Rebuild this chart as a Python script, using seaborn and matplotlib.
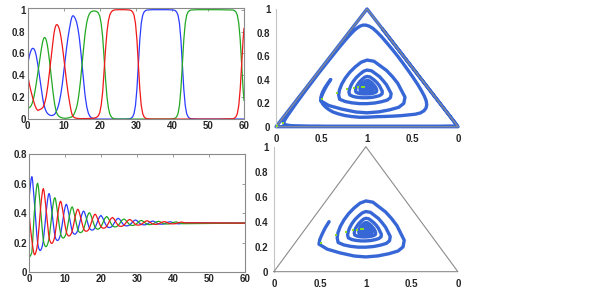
import numpy as np
import pandas as pd
import seaborn as sns
import matplotlib
matplotlib.use("Agg")
import matplotlib.pyplot as plt

# ---------------- data ----------------
# top left: run that spirals out to the boundary
# sampled every 0.2 up to t=16, every 0.4 up to t=24, then around each switch
t_growing = (list(np.round(np.arange(81) * 0.2, 1))
             + list(np.round(16.4 + np.arange(20) * 0.4, 1)) + [
    24.4, 25.5, 27.0, 28.3, 28.7, 29.1, 29.5, 29.9, 30.3, 30.7, 31.1, 31.5, 31.9,
    32.3, 32.7, 33.1, 34.5, 37.0, 39.0, 40.5, 40.9, 41.3, 41.7, 42.1, 42.5, 42.9,
    43.3, 43.7, 44.1, 44.5, 44.9, 45.3, 47.0, 50.0, 53.0, 56.95, 57.35, 57.75,
    58.15, 58.55, 58.95, 59.35, 59.75, 60.0])
blue_growing = [
    0.500, 0.536, 0.568, 0.594, 0.615, 0.632, 0.643, 0.647, 0.645, 0.638,
    0.625, 0.603, 0.575, 0.540, 0.500, 0.454, 0.405, 0.357, 0.310, 0.264,
    0.220, 0.182, 0.148, 0.120, 0.097, 0.079, 0.065, 0.055, 0.048, 0.042,
    0.038, 0.035, 0.033, 0.032, 0.033, 0.035, 0.038, 0.043, 0.050, 0.061,
    0.075, 0.091, 0.110, 0.133, 0.160, 0.193, 0.230, 0.273, 0.320, 0.373,
    0.430, 0.488, 0.545, 0.601, 0.655, 0.704, 0.750, 0.792, 0.830, 0.867,
    0.900, 0.926, 0.942, 0.945, 0.940, 0.931, 0.918, 0.902, 0.880, 0.851,
    0.815, 0.771, 0.720, 0.660, 0.595, 0.526, 0.455, 0.384, 0.315, 0.252,
    0.195,
    0.110, 0.057, 0.028, 0.013, 0.006, 0.003, 0.001, 0, 0, 0, 0, 0, 0, 0, 0,
    0, 0, 0, 0, 0,
    0, 0, 0, 0.003, 0.008, 0.020, 0.050, 0.125, 0.275, 0.500, 0.725, 0.875, 0.950,
    0.980, 0.992, 0.997, 1.0, 1.0, 1.0, 0.997, 0.992, 0.980, 0.950, 0.875, 0.725,
    0.500, 0.275, 0.125, 0.050, 0.020, 0.008, 0.003, 0, 0, 0, 0, 0, 0,
    0, 0, 0, 0, 0, 0]
green_growing = [
    0.100, 0.101, 0.103, 0.108, 0.115, 0.125, 0.140, 0.160, 0.185, 0.215,
    0.250, 0.288, 0.330, 0.374, 0.420, 0.465, 0.510, 0.556, 0.600, 0.642,
    0.680, 0.712, 0.735, 0.745, 0.745, 0.735, 0.715, 0.684, 0.645, 0.598,
    0.545, 0.489, 0.430, 0.370, 0.310, 0.253, 0.200, 0.154, 0.115, 0.085,
    0.062, 0.046, 0.035, 0.027, 0.021, 0.017, 0.014, 0.012, 0.010, 0.009,
    0.008, 0.0075, 0.007, 0.0075, 0.008, 0.009, 0.010, 0.0115, 0.013, 0.015,
    0.017, 0.020, 0.024, 0.032, 0.042, 0.056, 0.072, 0.090, 0.113, 0.143,
    0.180, 0.224, 0.276, 0.336, 0.401, 0.470, 0.541, 0.612, 0.681, 0.744,
    0.801,
    0.886, 0.938, 0.967, 0.981, 0.987, 0.988, 0.987, 0.982, 0.970, 0.940,
    0.870, 0.750, 0.560, 0.360, 0.200, 0.100, 0.045, 0.020, 0.008, 0.003,
    0.001, 0, 0, 0, 0, 0, 0, 0, 0, 0, 0, 0, 0,
    0, 0, 0, 0, 0, 0, 0.003, 0.008, 0.020, 0.050, 0.125, 0.275,
    0.500, 0.725, 0.875, 0.950, 0.980, 0.992, 0.997, 1.0, 1.0, 1.0, 0.997, 0.992,
    0.980, 0.950, 0.875, 0.725, 0.500, 0.275, 0.170]
red_growing = [
    0.400, 0.363, 0.329, 0.298, 0.270, 0.243, 0.217, 0.193, 0.170, 0.147,
    0.125, 0.109, 0.095, 0.086, 0.080, 0.081, 0.085, 0.087, 0.090, 0.094,
    0.100, 0.106, 0.117, 0.135, 0.158, 0.186, 0.220, 0.261, 0.307, 0.360,
    0.417, 0.476, 0.537, 0.598, 0.657, 0.712, 0.762, 0.803, 0.835, 0.854,
    0.863, 0.863, 0.855, 0.840, 0.819, 0.790, 0.756, 0.715, 0.670, 0.618,
    0.562, 0.505, 0.448, 0.392, 0.337, 0.287, 0.240, 0.197, 0.157, 0.118,
    0.083, 0.055, 0.034, 0.023, 0.018, 0.013, 0.010, 0.008, 0.007, 0.006,
    0.005, 0.005, 0.004, 0.004, 0.004, 0.004, 0.004, 0.004, 0.004, 0.004,
    0.004,
    0.004, 0.005, 0.005, 0.006, 0.007, 0.009, 0.012, 0.018, 0.030, 0.060,
    0.130, 0.250, 0.440, 0.640, 0.800, 0.900, 0.955, 0.980, 0.992, 0.997,
    0.999, 1.0, 1.0, 0.997, 0.992, 0.980, 0.950, 0.875, 0.725, 0.500, 0.275, 0.125,
    0.050, 0.020, 0.008, 0.003, 0, 0, 0, 0, 0, 0, 0, 0, 0,
    0, 0, 0, 0, 0, 0, 0, 0, 0, 0, 0.003, 0.008,
    0.020, 0.050, 0.125, 0.275, 0.500, 0.725, 0.830]

# bottom left: run that settles on the centre
# sampled every 0.2 up to t=19, then every 0.4
t_damped = (list(np.round(np.arange(96) * 0.2, 1))
            + list(np.round(19.2 + np.arange(61) * 0.4, 1)) + [60.0])
blue_damped = [
    0.500, 0.547, 0.588, 0.632, 0.647, 0.623, 0.569, 0.508, 0.441, 0.373,
    0.305, 0.248, 0.198, 0.172, 0.156, 0.148, 0.148, 0.155, 0.169, 0.189,
    0.217, 0.263, 0.311, 0.364, 0.413, 0.458, 0.495, 0.525, 0.533, 0.518,
    0.483, 0.445, 0.402, 0.359, 0.316, 0.279, 0.247, 0.230, 0.221, 0.216,
    0.215, 0.220, 0.229, 0.242, 0.259, 0.288, 0.319, 0.353, 0.384, 0.413,
    0.436, 0.455, 0.460, 0.451, 0.429, 0.404, 0.377, 0.350, 0.322, 0.299,
    0.279, 0.268, 0.262, 0.258, 0.258, 0.261, 0.267, 0.275, 0.286, 0.305,
    0.324, 0.346, 0.366, 0.384, 0.399, 0.411, 0.414, 0.408, 0.394, 0.378,
    0.361, 0.344, 0.326, 0.311, 0.299, 0.292, 0.288, 0.286, 0.286, 0.287,
    0.291, 0.296, 0.303, 0.315, 0.328, 0.341,
    0.354, 0.375, 0.385, 0.372, 0.351, 0.329, 0.311, 0.304, 0.303, 0.306, 0.314, 0.330,
    0.346, 0.360, 0.366, 0.358, 0.345, 0.330, 0.319, 0.315, 0.314, 0.316, 0.321, 0.331,
    0.342, 0.350, 0.354, 0.349, 0.340, 0.331, 0.324, 0.322, 0.321, 0.322, 0.326, 0.332,
    0.339, 0.344, 0.347, 0.343, 0.338, 0.332, 0.328, 0.326, 0.326, 0.326, 0.328, 0.332,
    0.337, 0.340, 0.342, 0.340, 0.336, 0.333, 0.330, 0.329, 0.328, 0.329, 0.330, 0.333,
    0.335, 0.333]
green_damped = [
    0.100, 0.104, 0.112, 0.121, 0.135, 0.200, 0.285, 0.375, 0.441, 0.502,
    0.552, 0.592, 0.603, 0.583, 0.536, 0.484, 0.426, 0.368, 0.309, 0.260,
    0.217, 0.194, 0.181, 0.174, 0.174, 0.180, 0.192, 0.209, 0.233, 0.273,
    0.314, 0.360, 0.402, 0.441, 0.473, 0.498, 0.505, 0.492, 0.462, 0.429,
    0.392, 0.355, 0.318, 0.287, 0.259, 0.245, 0.237, 0.232, 0.232, 0.236,
    0.244, 0.254, 0.270, 0.295, 0.321, 0.350, 0.377, 0.402, 0.422, 0.438,
    0.443, 0.434, 0.415, 0.394, 0.371, 0.347, 0.324, 0.304, 0.286, 0.277,
    0.272, 0.269, 0.269, 0.271, 0.276, 0.283, 0.293, 0.309, 0.326, 0.344,
    0.361, 0.377, 0.390, 0.400, 0.403, 0.397, 0.386, 0.372, 0.357, 0.342,
    0.327, 0.314, 0.303, 0.298, 0.294, 0.292,
    0.292, 0.297, 0.308, 0.328, 0.351, 0.369, 0.378, 0.367, 0.349, 0.329, 0.314, 0.308,
    0.307, 0.310, 0.317, 0.330, 0.345, 0.356, 0.361, 0.354, 0.343, 0.331, 0.321, 0.318,
    0.317, 0.319, 0.323, 0.331, 0.340, 0.348, 0.351, 0.347, 0.339, 0.332, 0.326, 0.323,
    0.323, 0.324, 0.327, 0.332, 0.338, 0.343, 0.345, 0.342, 0.337, 0.332, 0.328, 0.327,
    0.327, 0.327, 0.329, 0.333, 0.336, 0.339, 0.341, 0.339, 0.336, 0.333, 0.330, 0.329,
    0.329, 0.333]
red_damped = [
    0.400, 0.349, 0.300, 0.257, 0.220, 0.180, 0.150, 0.125, 0.118, 0.126,
    0.143, 0.165, 0.198, 0.251, 0.307, 0.369, 0.426, 0.478, 0.521, 0.556,
    0.566, 0.548, 0.508, 0.463, 0.413, 0.363, 0.313, 0.270, 0.233, 0.214,
    0.203, 0.196, 0.196, 0.201, 0.212, 0.226, 0.247, 0.281, 0.317, 0.356,
    0.392, 0.426, 0.453, 0.475, 0.481, 0.470, 0.444, 0.416, 0.384, 0.352,
    0.320, 0.293, 0.270, 0.257, 0.250, 0.246, 0.246, 0.249, 0.256, 0.265,
    0.279, 0.300, 0.323, 0.348, 0.371, 0.392, 0.409, 0.423, 0.427, 0.420,
    0.404, 0.386, 0.366, 0.345, 0.325, 0.308, 0.293, 0.285, 0.280, 0.278,
    0.278, 0.280, 0.284, 0.290, 0.299, 0.312, 0.327, 0.343, 0.357, 0.371,
    0.382, 0.391, 0.393, 0.388, 0.378, 0.367,
    0.354, 0.328, 0.308, 0.300, 0.298, 0.302, 0.311, 0.329, 0.349, 0.364, 0.371, 0.362,
    0.346, 0.330, 0.317, 0.312, 0.311, 0.313, 0.319, 0.331, 0.343, 0.353, 0.358, 0.352,
    0.342, 0.331, 0.323, 0.320, 0.319, 0.321, 0.324, 0.332, 0.339, 0.346, 0.349, 0.345,
    0.339, 0.332, 0.327, 0.325, 0.324, 0.325, 0.328, 0.332, 0.337, 0.341, 0.343, 0.341,
    0.337, 0.332, 0.329, 0.328, 0.328, 0.328, 0.330, 0.333, 0.336, 0.338, 0.340, 0.338,
    0.335, 0.333]

# green markers on the simplex plots (plot coordinates)
marks_damped_x = [0.507, 0.674, 0.783, 0.862, 0.905, 0.942, 0.971]
marks_damped_y = [0.232, 0.290, 0.318, 0.331, 0.336, 0.339, 0.339]
marks_growing_x = [0.080, 0.007]
marks_growing_y = [0.034, 0.003]

simplex_x = [0, 1, 2, 0]
simplex_y = [0, 1, 0, 0]

# ---------------- styling ----------------
sns.set_style("white")
plt.rcParams["font.family"] = ["Liberation Sans", "DejaVu Sans"]
plt.rcParams["font.weight"] = "bold"
plt.rcParams["font.size"] = 7

palette = {"blue": "#2a3cff", "green": "#22a822", "red": "#f01818"}
traj_color = "#3767d6"
dot_color = "#86dc22"

fig = plt.figure(figsize=(6.10, 2.89), dpi=100)
ax_tl = fig.add_axes([0.0454, 0.588, 0.3546, 0.383])
ax_bl = fig.add_axes([0.0475, 0.0578, 0.3541, 0.409])
ax_tr = fig.add_axes([0.4525, 0.5616, 0.2984, 0.4073])
ax_br = fig.add_axes([0.449, 0.060, 0.3016, 0.4324])


def time_panel(ax, t, b, g, r, ymax, yticks):
    df = pd.DataFrame({"t": t, "blue": b, "green": g, "red": r})
    long = df.melt(id_vars="t", var_name="series", value_name="x")
    sns.lineplot(data=long, x="t", y="x", hue="series", palette=palette,
                 estimator=None, sort=False, legend=False, linewidth=0.9, ax=ax)
    ax.set_xlim(0, 60)
    ax.set_ylim(0, ymax)
    ax.set_xticks(range(0, 61, 10))
    ax.set_yticks(yticks)
    ax.set_yticklabels([f"{v:g}" for v in yticks])
    ax.set_xlabel("")
    ax.set_ylabel("")
    for s in ax.spines.values():
        s.set_color("#8a8a8a")
        s.set_linewidth(0.8)
    ax.tick_params(direction="in", length=2.5, width=0.6, color="#8a8a8a",
                   top=True, right=True, pad=1.5, labelsize=7)


time_panel(ax_tl, t_growing, blue_growing, green_growing, red_growing,
           1.012, [0, 0.2, 0.4, 0.6, 0.8, 1])
time_panel(ax_bl, t_damped, blue_damped, green_damped, red_damped,
           0.8, [0, 0.2, 0.4, 0.6, 0.8])


def simplex_panel(ax, runs, mx, my):
    for b, g, r in runs:
        xs = [2 * gi + ri for gi, ri in zip(g, r)]
        ys = list(r)
        sns.lineplot(x=xs, y=ys, sort=False, estimator=None, color=traj_color,
                     linewidth=2.4, ax=ax, clip_on=False, zorder=2)
    ax.plot(simplex_x, simplex_y, color="#8c8c8c", linewidth=0.8,
            clip_on=False, zorder=3)
    ax.scatter(mx, my, s=4.5, marker="s", color=dot_color, linewidths=0,
               zorder=4, clip_on=False)
    ax.set_xlim(0, 2)
    ax.set_ylim(0, 1)
    ax.set_xticks([0, 0.5, 1, 1.5, 2])
    ax.set_xticklabels(["0", "0.5", "1", "0.5", "0"])
    ax.set_yticks([0, 0.2, 0.4, 0.6, 0.8, 1])
    ax.set_yticklabels(["0", "0.2", "0.4", "0.6", "0.8", "1"])
    for side in ["top", "right", "bottom"]:
        ax.spines[side].set_visible(False)
    ax.spines["left"].set_color("#c4c4c4")
    ax.spines["left"].set_linewidth(0.8)
    ax.tick_params(axis="y", direction="out", length=2.5, width=0.6,
                   color="#b0b0b0", pad=1.5, labelsize=7)
    ax.tick_params(axis="x", length=0, pad=5, labelsize=7)


simplex_panel(ax_tr,
              [(blue_growing, green_growing, red_growing),
               (blue_damped, green_damped, red_damped)],
              marks_damped_x + marks_growing_x, marks_damped_y + marks_growing_y)
simplex_panel(ax_br, [(blue_damped, green_damped, red_damped)],
              marks_damped_x, marks_damped_y)

fig.savefig("out.png", dpi=100)
